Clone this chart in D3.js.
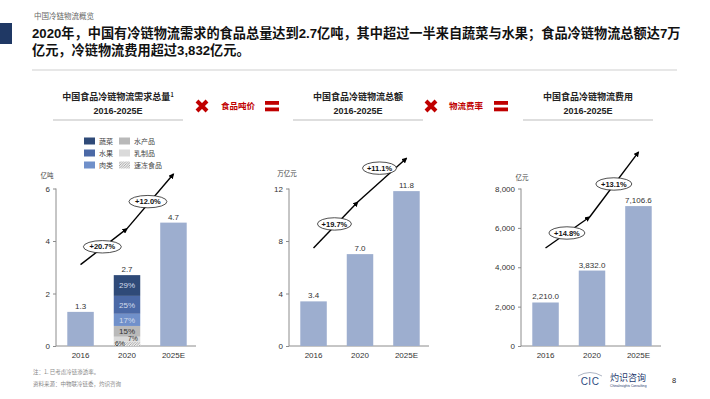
<!DOCTYPE html>
<html>
<head>
  <meta charset="utf-8">
  <title>中国冷链物流概览</title>
  <script src="https://d3js.org/d3.v7.min.js"></script>
  <style>
    body { margin: 0; background: #fff; }
    svg { display: block; font-family: "Liberation Sans", "Noto Sans CJK SC", sans-serif; }
    .cn { font-family: "Noto Sans CJK SC", sans-serif; }
  </style>
</head>
<body>
<div id="chart"></div>
<script>
  // data
  let years = ['2016', '2020', '2025E'];
  let demandValues = [1.3, 2.7, 4.7];          // 亿吨
  let demandLabels = ['1.3', '2.7', '4.7'];
  let totalValues = [3.4, 7.0, 11.8];          // 万亿元
  let totalLabels = ['3.4', '7.0', '11.8'];
  let costValues = [2210.0, 3832.0, 7106.6];   // 亿元
  let costLabels = ['2,210.0', '3,832.0', '7,106.6'];
  let demandCagr = ['+20.7%', '+12.0%'];
  let totalCagr = ['+19.7%', '+11.1%'];
  let costCagr = ['+14.8%', '+13.1%'];
  // 2020 demand mix, bottom to top
  let mixCategories = ['速冻食品', '乳制品', '水产品', '肉类', '水果', '蔬菜'];
  let mixShares = [6, 7, 15, 17, 25, 29];
  let legendOrder = ['蔬菜', '水果', '肉类', '水产品', '乳制品', '速冻食品'];

  let W = 710, H = 399;
  let svg = d3.select('#chart').append('svg').attr('width', W).attr('height', H);

  let defs = svg.append('defs');
  let pat = defs.append('pattern').attr('id', 'hatch').attr('patternUnits', 'userSpaceOnUse')
    .attr('width', 2.5).attr('height', 2.5);
  pat.append('rect').attr('width', 2.5).attr('height', 2.5).attr('fill', '#eeeeee');
  pat.append('path').attr('d', 'M0,2.5 L2.5,0').attr('stroke', '#9a9a9a').attr('stroke-width', 0.8);
  defs.append('marker').attr('id', 'arrow').attr('viewBox', '0 0 10 10')
    .attr('refX', 8).attr('refY', 5).attr('markerWidth', 4).attr('markerHeight', 4)
    .attr('orient', 'auto')
    .append('path').attr('d', 'M0,0 L10,5 L0,10 z').attr('fill', '#000');

  let mixColor = d3.scaleOrdinal()
    .domain(['蔬菜', '水果', '肉类', '水产品', '乳制品', '速冻食品'])
    .range(['#2f4a78', '#4b69a6', '#7090ca', '#b9b9b9', '#dadada', 'url(#hatch)']);

  // header
  svg.append('text').attr('class', 'cn').attr('x', 34).attr('y', 18.5)
    .attr('font-size', 7.5).attr('fill', '#666').text('中国冷链物流概览');
  svg.append('rect').attr('x', 0).attr('y', 23).attr('width', 12).attr('height', 21).attr('fill', '#1f3864');
  let head = svg.append('text').attr('font-size', 13.2).attr('font-weight', 'bold').attr('fill', '#111');
  head.append('tspan').attr('x', 32).attr('y', 38).text('2020年，中国有冷链物流需求的食品总量达到2.7亿吨，其中超过一半来自蔬菜与水果；食品冷链物流总额达7万');
  head.append('tspan').attr('x', 32).attr('y', 55).text('亿元，冷链物流费用超过3,832亿元。');
  svg.append('line').attr('x1', 32).attr('x2', 677).attr('y1', 70).attr('y2', 70)
    .attr('stroke', '#cfcfcf').attr('stroke-width', 1);

  let plotTop = 188.5, plotBottom = 346;

  let panels = [
    { x0: 56, max: 6, ticks: [0, 2, 4, 6], fmt: d3.format('d'), unit: '亿吨', unitX: 47, unitY: 178,
      values: demandValues, labels: demandLabels, cagr: demandCagr,
      title: '中国食品冷链物流需求总量', sup: '1', titleCx: 118,
      trend: [[0, 3.1], [1, 4.47], [2, 6.55]], cagrPos: [[0.47, 3.78], [1.45, 5.5]], rx: 19, stacked: 1 },
    { x0: 289, max: 12, ticks: [0, 4, 8, 12], fmt: d3.format('d'), unit: '万亿元', unitX: 287, unitY: 176,
      values: totalValues, labels: totalLabels, cagr: totalCagr,
      title: '中国食品冷链物流总额', sup: '', titleCx: 358,
      trend: [[0, 7.47], [0.95, 10.97], [2, 14.3]], cagrPos: [[0.45, 9.3], [1.42, 13.55]], rx: 17 },
    { x0: 521, max: 8000, ticks: [0, 2000, 4000, 6000, 8000], fmt: d3.format(','), unit: '亿元', unitX: 522, unitY: 180,
      values: costValues, labels: costLabels, cagr: costCagr,
      title: '中国食品冷链物流费用', sup: '', titleCx: 588,
      trend: [[0, 4978], [0.95, 6552], [2, 9850]], cagrPos: [[0.46, 5740], [1.47, 8230]], rx: 18 }
  ];

  panels.forEach(p => {
    let g = svg.append('g');
    let x = d3.scaleBand().domain(years).range([p.x0 + 2, p.x0 + 140])
      .paddingInner(0.43).paddingOuter(0.2);
    let y = d3.scaleLinear().domain([0, p.max]).range([plotBottom, plotTop]);
    let cx = i => {
      let lo = Math.floor(i), hi = Math.min(lo + 1, years.length - 1);
      let a = x(years[lo]) + x.bandwidth() / 2, b = x(years[hi]) + x.bandwidth() / 2;
      return a + (b - a) * (i - lo);
    };

    // title block
    let t = g.append('text').attr('class', 'cn').attr('x', p.titleCx).attr('y', 100)
      .attr('text-anchor', 'middle').attr('font-size', 9).attr('font-weight', 'bold').attr('fill', '#222');
    t.append('tspan').text(p.title);
    if (p.sup) t.append('tspan').attr('dy', -3).attr('font-size', 5.5).text(p.sup);
    g.append('text').attr('x', p.titleCx).attr('y', 114).attr('text-anchor', 'middle')
      .attr('font-size', 9).attr('font-weight', 'bold').attr('fill', '#222').text('2016-2025E');
    g.append('line').attr('x1', p.titleCx - 65).attr('x2', p.titleCx + 65).attr('y1', 120).attr('y2', 120)
      .attr('stroke', '#bdbdbd').attr('stroke-width', 1);

    // axes
    let yAxis = g.append('g').attr('transform', 'translate(' + p.x0 + ',0)')
      .call(d3.axisLeft(y).tickValues(p.ticks).tickFormat(p.fmt).tickSize(3).tickPadding(3));
    yAxis.select('.domain').attr('stroke', '#8c8c8c').attr('d', 'M0,' + plotTop + 'V' + plotBottom);
    yAxis.selectAll('.tick line').attr('stroke', '#8c8c8c');
    yAxis.selectAll('.tick text').attr('font-size', 8).attr('fill', '#333')
      .attr('font-family', '"Liberation Sans", sans-serif');

    let xAxis = g.append('g').attr('transform', 'translate(0,' + plotBottom + ')')
      .call(d3.axisBottom(x).tickSize(0).tickPadding(6));
    xAxis.select('.domain').attr('stroke', '#8c8c8c').attr('d', 'M' + p.x0 + ',0H' + (p.x0 + 140));
    xAxis.selectAll('.tick text').attr('font-size', 8).attr('fill', '#333')
      .attr('font-family', '"Liberation Sans", sans-serif');

    g.append('text').attr('class', 'cn').attr('x', p.unitX).attr('y', p.unitY).attr('text-anchor', 'middle')
      .attr('font-size', 6.5).attr('fill', '#444').text(p.unit);

    // bars
    let bars = years.map((yr, i) => ({ yr, v: p.values[i], label: p.labels[i] }));
    g.selectAll('.bar').data(bars.filter((d, i) => !(p.stacked === i))).enter().append('rect')
      .attr('x', d => x(d.yr)).attr('width', x.bandwidth())
      .attr('y', d => y(d.v)).attr('height', d => plotBottom - y(d.v))
      .attr('fill', '#9daecf');

    if (p.stacked !== undefined) {
      let total = p.values[p.stacked];
      let yr = years[p.stacked];
      let acc = 0;
      let segs = mixCategories.map((c, i) => {
        let v = total * mixShares[i] / 100;
        let s = { c, share: mixShares[i], y0: acc, y1: acc + v };
        acc += v;
        return s;
      });
      // scale to the bar total
      let k = total / acc;
      segs.forEach(s => { s.y0 *= k; s.y1 *= k; });
      g.selectAll('.seg').data(segs).enter().append('rect')
        .attr('x', x(yr)).attr('width', x.bandwidth())
        .attr('y', d => y(d.y1)).attr('height', d => y(d.y0) - y(d.y1))
        .attr('fill', d => mixColor(d.c));
      let bx = x(yr) + x.bandwidth() / 2;
      // the two thin bottom segments get small offset labels
      g.selectAll('.segLabel').data(segs).enter().append('text')
        .attr('x', (d, i) => i === 0 ? bx - 7 : i === 1 ? bx + 6 : bx)
        .attr('y', (d, i) => i === 0 ? plotBottom - 0.5 : i === 1 ? y(d.y0) - 0.5 : (y(d.y0) + y(d.y1)) / 2 + 2.8)
        .attr('text-anchor', 'middle').attr('font-size', (d, i) => i < 2 ? 6.8 : 8)
        .attr('fill', (d, i) => i < 3 ? '#333' : '#d4dcec')
        .text(d => d.share + '%');
    }

    g.selectAll('.val').data(bars).enter().append('text')
      .attr('x', d => x(d.yr) + x.bandwidth() / 2).attr('y', d => y(d.v) - 3)
      .attr('text-anchor', 'middle').attr('font-size', 8).attr('fill', '#333')
      .text(d => d.label);

    // growth arrow
    let line = d3.line().x(d => cx(d[0])).y(d => y(d[1]));
    g.append('path').attr('d', line(p.trend.slice(0, 2))).attr('fill', 'none')
      .attr('stroke', '#000').attr('stroke-width', 1.4).attr('marker-end', 'url(#arrow)');
    g.append('path').attr('d', line(p.trend.slice(1))).attr('fill', 'none')
      .attr('stroke', '#000').attr('stroke-width', 1.4).attr('marker-end', 'url(#arrow)');
    p.cagrPos.forEach((pos, i) => {
      let ex = cx(pos[0]), ey = y(pos[1]);
      g.append('ellipse').attr('cx', ex).attr('cy', ey).attr('rx', p.rx).attr('ry', 6.2)
        .attr('fill', '#fff').attr('stroke', '#222').attr('stroke-width', 0.8);
      g.append('text').attr('x', ex).attr('y', ey + 2.7).attr('text-anchor', 'middle')
        .attr('font-size', 7.5).attr('font-weight', 'bold').attr('fill', '#111').text(p.cagr[i]);
    });
  });

  // legend for the 2020 mix
  let lg = svg.append('g');
  legendOrder.forEach((c, i) => {
    let col = Math.floor(i / 3), row = i % 3;
    let lx = 84 + col * 35, ly = 141 + row * 12;
    lg.append('rect').attr('x', lx).attr('y', ly - 3.5).attr('width', 11).attr('height', 7)
      .attr('fill', mixColor(c));
    lg.append('text').attr('class', 'cn').attr('x', lx + 15).attr('y', ly + 2.5)
      .attr('font-size', 7).attr('fill', '#444').text(c);
  });

  // red operators between the charts
  let red = '#c00000';
  let ops = svg.append('g');
  [[202, '食品吨价', 221, 272], [431, '物流费率', 449, 501]].forEach(o => {
    ops.append('path').attr('d', 'M' + (o[0] - 5) + ',101 L' + (o[0] + 5) + ',111 M' + (o[0] + 5) + ',101 L' + (o[0] - 5) + ',111')
      .attr('stroke', red).attr('stroke-width', 4);
    ops.append('text').attr('class', 'cn').attr('x', o[2]).attr('y', 109)
      .attr('font-size', 8.5).attr('font-weight', 'bold').attr('fill', red).text(o[1]);
    ops.append('rect').attr('x', o[3] - 7).attr('y', 101).attr('width', 14).attr('height', 3.8).attr('fill', red);
    ops.append('rect').attr('x', o[3] - 7).attr('y', 107.5).attr('width', 14).attr('height', 3.8).attr('fill', red);
  });

  // footer
  svg.append('text').attr('class', 'cn').attr('x', 33).attr('y', 374).attr('font-size', 5.5)
    .attr('fill', '#888').text('注：1. 已考虑冷链渗透率。');
  svg.append('text').attr('class', 'cn').attr('x', 33).attr('y', 386).attr('font-size', 5.5)
    .attr('fill', '#888').text('资料来源：中物联冷链委，灼识咨询');
  let logo = svg.append('g');
  logo.append('path').attr('d', 'M578,376 Q590,369 602,376').attr('fill', 'none')
    .attr('stroke', '#9aa3b5').attr('stroke-width', 0.8);
  logo.append('text').attr('x', 590).attr('y', 384.5).attr('text-anchor', 'middle')
    .attr('font-size', 10).attr('fill', '#2b4a7f').attr('letter-spacing', 0.5).text('CIC');
  logo.append('text').attr('class', 'cn').attr('x', 610).attr('y', 381).attr('font-size', 9)
    .attr('fill', '#1f3a6e').text('灼识咨询');
  logo.append('text').attr('x', 610).attr('y', 386.5).attr('font-size', 3.3)
    .attr('fill', '#1f3a6e').text('ChinaInsights Consulting');
  svg.append('text').attr('x', 674).attr('y', 383).attr('text-anchor', 'middle').attr('font-size', 7.5)
    .attr('fill', '#222').text('8');
</script>
</body>
</html>
